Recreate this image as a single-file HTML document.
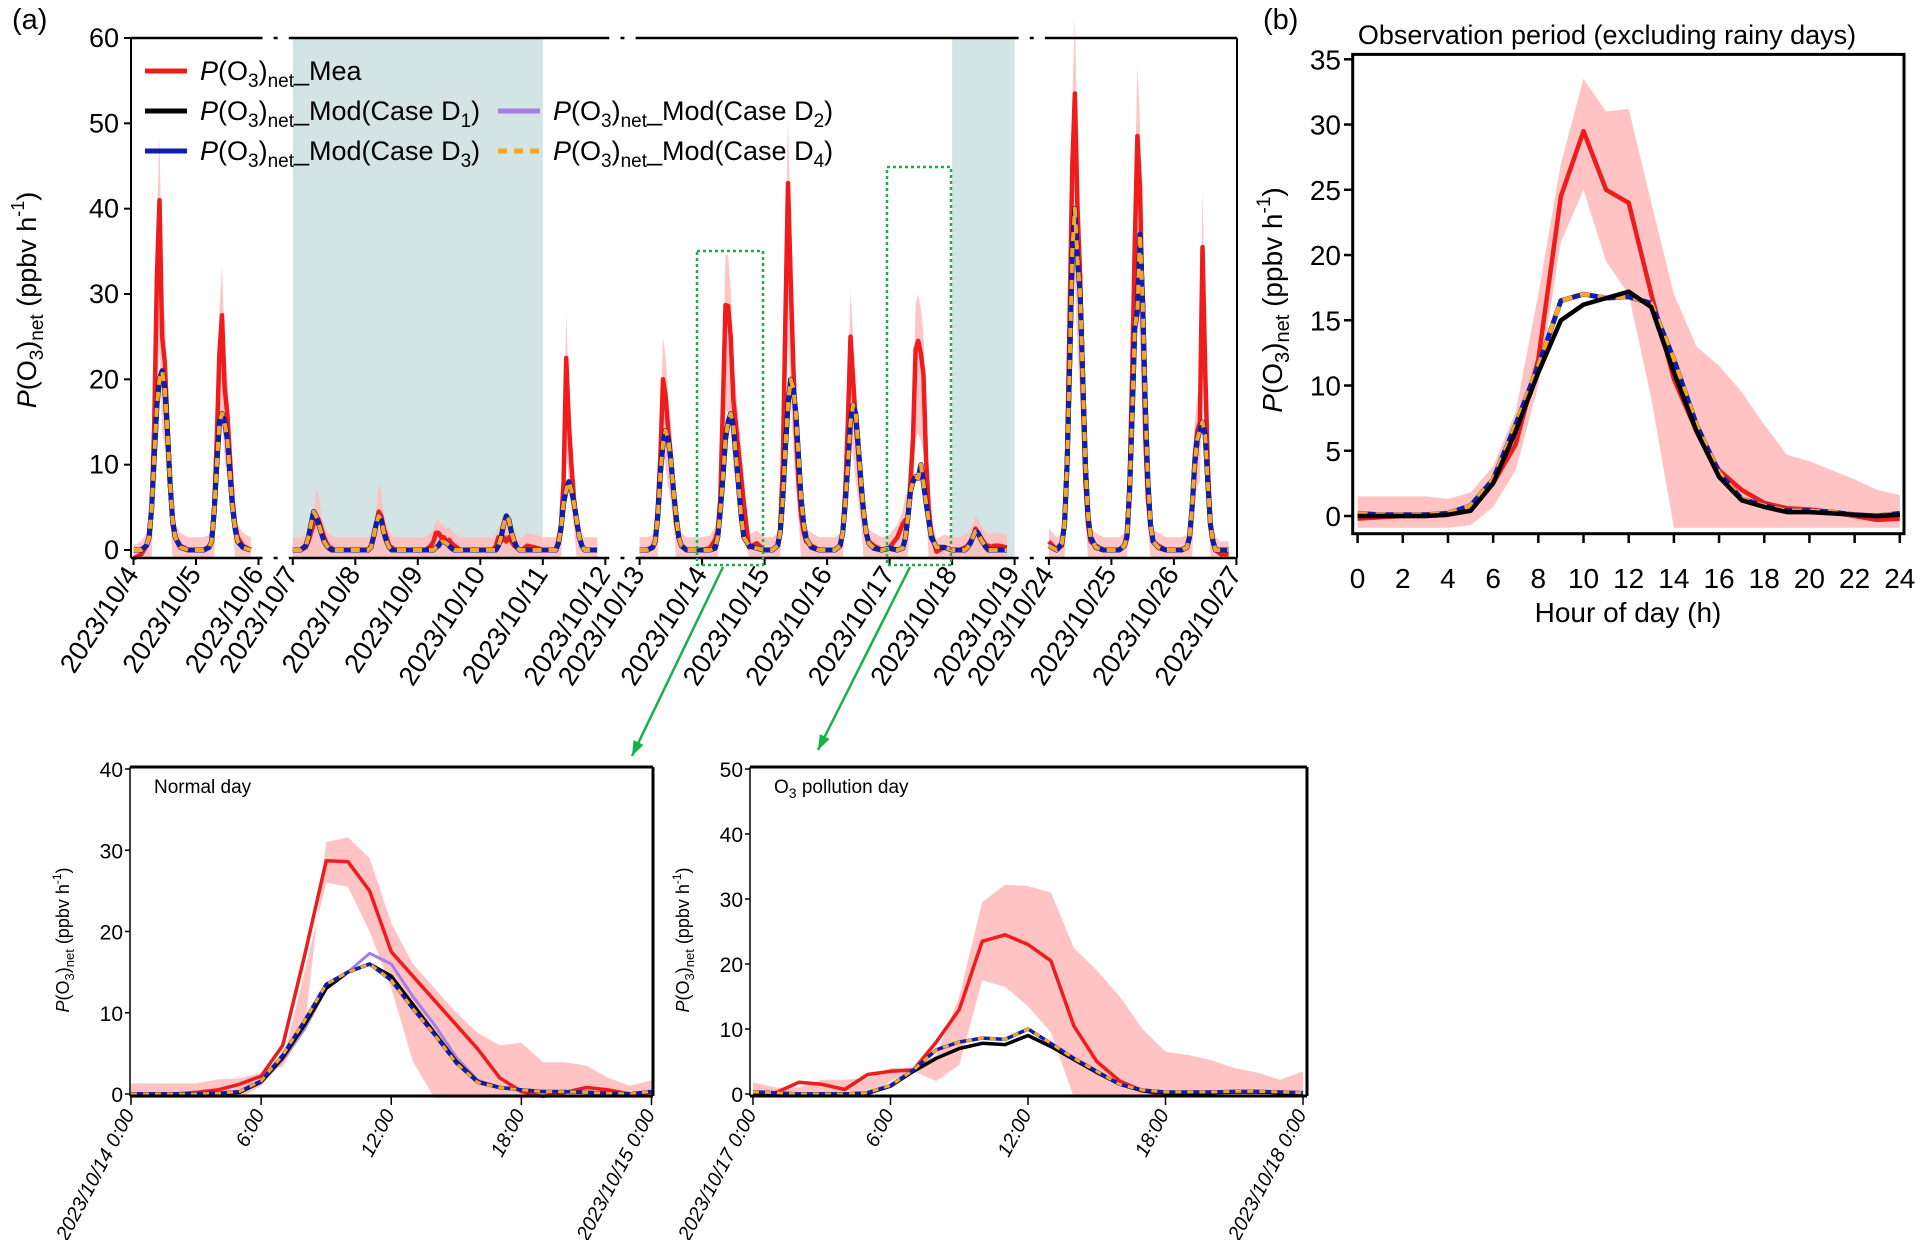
<!DOCTYPE html>
<html><head><meta charset="utf-8"><style>
html,body{margin:0;padding:0;background:#fff;}
svg{display:block;font-family:"Liberation Sans",sans-serif;}
.nar{font-family:"Liberation Sans Narrow","Liberation Sans",sans-serif;}
</style></head><body>
<svg id="fig" width="1921" height="1240" viewBox="0 0 1921 1240" xmlns="http://www.w3.org/2000/svg">
<g id="pa"></g>
<g id="pb"></g>
<g id="pc"></g>
<g id="pd"></g>
</svg>
<script>
// ---------- Panel (a) data ----------
const segFrom=[4,7,13,24];
const segTo=[6,12,19,27];
const gridHours=[0,3,5,6,7,8,9,10,11,12,13,14,15,16,18,21];
const dayDates=[4,5,7,8,9,10,11,13,14,15,16,17,18,24,25,26];
const meaA=[
[-1,-0.5,0.5,1.5,5,15,32,41,25,22,15,8,3,1.5,0.5,0],
[0,0,0.3,1,5,13,23,27.5,19,16,11,6,3,1.5,0.5,0],
[0,0,0.3,1,2,3,4,3.5,2.5,1.5,0.8,0.3,0.2,0,0,0],
[0,0,0,0.5,1.5,3,4.5,4,2.5,1.5,0.5,0.3,0,0,0,0],
[0,0,0.5,1,2,2,1.5,1.5,1,1.2,0.8,0.5,0.3,0,0,0],
[0,0,0,0.5,1.5,1,1.5,1,1.5,1,0.5,0.3,0,0,0.5,0.3],
[0,0,0,1,3,8,22.5,15,10,6,3,1.5,0.5,0,0,0],
[0,0,0.3,1,5,11,20,18,14,11,7,3,1.5,0.5,0,0],
[0,0.2,1.2,2.2,6,17,28.7,28.6,25,17.5,14.5,11.5,8.5,5.5,0.3,0.8],
[0,0,0.5,2.5,10,27,43,32,22,14,8,4,2,1,0.5,0],
[0,0,0.5,2,7,15,25,20,15,11,7,4,2,1,0.5,0],
[0.3,1.5,3,3.5,3.7,8,13,23.5,24.5,23,20.5,10.5,5,2,-0.2,0.3],
[0,0,0.3,0.5,1,1.5,2.5,2,1.5,1,0.5,0.5,0.3,0.5,0.5,0.3],
[1,0,0.5,3,11,28,45,53.5,40,32,18,8,3,1,0.5,0],
[0,0,0.5,2,8,21,36,48.5,42.5,27,13,6,3,1,0.5,0],
[0,0,0.3,1.5,5,11,14,15,35.5,21,10,3,1,0,-0.5,-0.5]];
const modA=[
[0,0,0.5,1.5,5,11,17,20,21,19,14,8,3.5,1.5,0.3,0],
[0,0,0.3,1,4.5,10,15,16,15,13,9,5,2.5,1,0.3,0],
[0,0,0.5,1.5,3,4.5,4,3,2,1,0.5,0.2,0,0,0,0],
[0,0,0,0.3,1.5,3,4,3.5,2,1,0.3,0,0,0,0,0],
[0,0,0,0,0.3,0.5,1,1,0.8,0.5,0.2,0,0,0,0,0],
[0,0,0,0,0.5,1.5,3,4,3.5,2,1,0.3,0,0,0,0],
[0,0,0,0.8,2.5,5.5,7,8,7,5.5,3.5,1.5,0.5,0,0,0],
[0,0,0.3,1,4,9,12.5,14,13,10.5,7,4,1.5,0.5,0,0],
[0,0,0.2,1.5,4.5,8.5,13,15,16,14.5,11,7.5,4,1.5,0.5,0.2],
[0,0,0.5,2,6,12,17,20,19,16,11,6,3,1.3,0.3,0],
[0,0,0.5,2,5.5,10,15,17,16,12,8,4.5,2,0.8,0.2,0],
[0.2,0,0.2,1.3,3.7,6.8,8,8.6,8.4,10,7.8,5.5,3.5,1.5,0.3,0.3],
[0,0,0,0.3,0.8,1.5,2.2,2,1.3,0.8,0.3,0,0,0,0,0],
[0.5,0,0.8,3,10,22,35,40,34,30,20,10,4,1.5,0.3,0],
[0,0,0.5,1.5,7,16,26,28,37,29,17,8,3,1,0.3,0],
[0,0,0.3,1.5,5,10,13,14,15,13.5,8,3,1,0,0,0]];
const rainFrom=[7,18];
const rainTo=[11,19];
const yTicksA=[0,10,20,30,40,50,60];

// ---------- Panel (b) data ----------
const hoursB=[0,1,2,3,4,5,6,7,8,9,10,11,12,13,14,15,16,17,18,19,20,21,22,23,24];
const meaB=[-0.2,-0.1,0,0,0.1,0.8,2.5,5.5,12,24.5,29.5,25,24,17,10.5,6.5,3.5,2,1,0.6,0.5,0.3,0,-0.3,-0.2];
const upB=[1.5,1.5,1.5,1.5,1.3,1.8,3.8,8,17,27,33.5,31,31.2,24,17,13,11.5,9.5,7,4.7,4.2,3.5,2.8,2,1.6];
const loB=[-1,-1,-1,-1,-1,-0.7,0.7,3.5,10,21,25,19.5,17,9,-1,-1,-1,-1,-1,-1,-1,-1,-1,-1,-1];
const modB1=[0,0,0,0,0.1,0.4,2.5,6.5,11,15,16.2,16.7,17.2,16,11,6.5,3,1.2,0.7,0.3,0.3,0.2,0.1,0,0.1];
const modB3=[0.2,0.1,0.1,0.1,0.2,0.8,2.8,7,11.5,16.5,17,16.7,16.8,16.3,12,7,3.3,1.3,0.8,0.4,0.4,0.3,0.1,0,0.2];
const yTicksB=[0,5,10,15,20,25,30,35];
const xTicksB=[0,2,4,6,8,10,12,14,16,18,20,22,24];

// ---------- Normal day ----------
const meaN=[0,0,0,0.2,0.5,1.2,2.2,6,17,28.7,28.6,25,17.5,14.5,11.5,8.5,5.5,2,0.3,-0.3,0.2,0.8,0.5,0,0.2];
const upN=[1.3,1.3,1.3,1.3,1.8,1.9,2.6,3.4,8,31,31.6,29,21,16,13,10,7.5,6,6.3,3.9,3.9,3.5,2,1,1.7];
const loN=[-0.5,-0.5,-0.5,-0.5,-0.5,-0.5,1,4,15,26,25.5,20,13,4,-0.5,-0.5,-0.5,-0.5,-0.5,-0.5,-0.5,-0.5,-0.5,-0.5,-0.5];
const modN1=[0,0,0,0,0.1,0.2,1.5,4.5,8.5,13,15,16,14.5,11,7.5,4,1.5,0.8,0.5,0.3,0.3,0.2,0.1,0,0.3];
const modN2=[0,0,0,0,0.1,0.2,1.4,4.2,8,13,15,17.3,16,12,8.5,4.5,1.7,0.8,0.5,0.3,0.3,0.2,0.1,0,0.3];
const modN3=[0,0,0,0,0.1,0.3,1.6,4.8,9,13.5,15,16,14,10.5,7.3,3.8,1.4,0.8,0.5,0.3,0.3,0.2,0.1,0,0.3];
const yTicksN=[0,10,20,30,40];
// ---------- Pollution day ----------
const meaP=[0.3,0.2,1.8,1.5,0.7,3,3.5,3.7,8,13,23.5,24.5,23,20.5,10.5,5,2,0.5,-0.2,0.3,0.3,0.3,0.3,0.3,0.2];
const upP=[1.8,1,1,2.2,2.2,2.5,4,4,6,15,29.5,32.2,32,31,22.5,19,15,10,6.5,6,5.2,4,3.3,2.2,3.5];
const loP=[-0.5,-0.5,-0.5,-0.5,-0.5,-0.5,2,3.5,2,4.5,17.5,16.5,13.5,9.5,-0.5,-0.5,-0.5,-0.5,-0.5,-0.5,-0.5,-0.5,-0.5,-0.5,-0.5];
const modP1=[0,0,0,0,0,0.1,1.2,3.5,5.5,7,7.8,7.6,9,7.3,5.3,3.3,1.5,0.5,0.2,0.2,0.2,0.3,0.3,0.2,0.2];
const modP3=[0.3,0.2,0,0,0,0.2,1.3,3.7,6.8,8,8.6,8.4,10,7.8,5.5,3.5,1.5,0.6,0.3,0.3,0.3,0.4,0.4,0.3,0.2];
const yTicksP=[0,10,20,30,40,50];
const xTicksDay=[0,6,12,18,24];

const NS="http://www.w3.org/2000/svg";
function mk(parent,tag,attrs,txt){const e=document.createElementNS(NS,tag);for(const k in attrs)e.setAttribute(k,attrs[k]);if(txt!==undefined)e.textContent=txt;parent.appendChild(e);return e;}
function ptsStr(xs,ys){return xs.map((x,i)=>x.toFixed(1)+','+ys[i].toFixed(1)).join(' ');}

const C={red:'#ee1c1c',black:'#000',purple:'#a57fe6',blue:'#0d1eb0',orange:'#f6a623',band:'#ffbcbc',rain:'#d2e4e3',green:'#19b04a'};

// ================= Panel (a) =================
(function(){
const g=document.getElementById('pa');
const X0=133.5, DW=62.5, GAP=34.3, Y0=550, YPER=(550-38)/60;
const segStart=[];let acc=X0;
for(let s=0;s<segFrom.length;s++){segStart.push(acc);acc+=(segTo[s]-segFrom[s])*DW+GAP;}
function segOf(d){for(let s=0;s<segFrom.length;s++){if(d>=segFrom[s]&&d<=segTo[s])return s;}return 0;}
function xA(d,h){const s=segOf(d);return segStart[s]+(d-segFrom[s]+h/24)*DW;}
function yA(v){return Y0-v*YPER;}
for(let i=0;i<rainFrom.length;i++){
  const r=mk(g,'rect',{x:xA(rainFrom[i],0),y:38,width:xA(rainTo[i],0)-xA(rainFrom[i],0),height:Y0+8-38,fill:C.rain});
  
  
}
function buildSeg(s,arr,fn){const xs=[],ys=[];
  dayDates.forEach((d,i)=>{if(segOf(d)!==s)return;gridHours.forEach((h,j)=>{xs.push(xA(d,h));ys.push(yA(fn(arr[i][j])));});});
  return [xs,ys];}
for(let s=0;s<segFrom.length;s++){
  const [xs,yu]=buildSeg(s,meaA,v=>v>3?v*1.12+2.5:v+1.5);
  const [,yl]=buildSeg(s,meaA,v=>v>5?v*0.6-1:-1);
  if(!xs.length)continue;
  const poly=ptsStr(xs,yu)+' '+ptsStr(xs.slice().reverse(),yl.slice().reverse());
  const b=mk(g,'polygon',{points:poly,fill:C.band,opacity:0.85});
  
  
}
const series=[
 {arr:meaA,col:C.red,w:4.5,name:'measured-line',dash:null},
 {arr:modA,col:C.black,w:5,name:'mod-case-d1-line',dash:null},
 {arr:modA,col:C.purple,w:4,name:'mod-case-d2-line',dash:null},
 {arr:modA,col:C.blue,w:5,name:'mod-case-d3-line',dash:null},
 {arr:modA,col:C.orange,w:4,name:'mod-case-d4-line',dash:'9,7'}];
series.forEach(sr=>{for(let s=0;s<segFrom.length;s++){
  const [xs,ys]=buildSeg(s,sr.arr,v=>v);if(!xs.length)continue;
  const a={points:ptsStr(xs,ys),fill:'none',stroke:sr.col,'stroke-width':sr.w,'stroke-linejoin':'round'};
  if(sr.dash)a['stroke-dasharray']=sr.dash;
  const p=mk(g,'polyline',a);
  
  
}});
const fr=mk(g,'g',{});


mk(fr,'line',{x1:131,y1:38,x2:131,y2:Y0+8,stroke:'#000','stroke-width':2});
mk(fr,'line',{x1:1237,y1:38,x2:1237,y2:Y0+8,stroke:'#000','stroke-width':2});
for(let s=0;s<segFrom.length;s++){
  const xa=s===0?131:segStart[s]-4, xb=s===segFrom.length-1?1237:segStart[s]+(segTo[s]-segFrom[s])*DW+4;
  mk(fr,'line',{x1:xa,y1:38,x2:xb,y2:38,stroke:'#000','stroke-width':2.5});
  mk(fr,'line',{x1:xa,y1:Y0+8,x2:xb,y2:Y0+8,stroke:'#000','stroke-width':2.5});
  if(s>0){const gx=segStart[s]-GAP/2;
    mk(fr,'line',{x1:gx-2,y1:38,x2:gx+2,y2:38,stroke:'#000','stroke-width':2.5});
    mk(fr,'line',{x1:gx-2,y1:Y0+8,x2:gx+2,y2:Y0+8,stroke:'#000','stroke-width':2.5});}
}
yTicksA.forEach(v=>{const y=yA(v);
  mk(fr,'line',{x1:124,y1:y,x2:131,y2:y,stroke:'#000','stroke-width':2});
  const t=mk(g,'text',{x:119,y:y+9,'text-anchor':'end','font-size':27},String(v));
  
  
});
for(let s=0;s<segFrom.length;s++){for(let d=segFrom[s];d<=segTo[s];d++){
  const x=segStart[s]+(d-segFrom[s])*DW;
  mk(fr,'line',{x1:x,y1:Y0+8,x2:x,y2:Y0+15,stroke:'#000','stroke-width':2});
  const t=mk(g,'text',{x:x+6,y:Y0+24,'text-anchor':'end','font-size':27,transform:`rotate(-57 ${x+6} ${Y0+24})`},'2023/10/'+d);
  
  
}}
const hl=[[14,[697,251,66,314],[723,567,632,756]],[17,[887,167,64,398],[910,567,818,750]]];
hl.forEach(h=>{
  const r=mk(g,'rect',{x:h[1][0],y:h[1][1],width:h[1][2],height:h[1][3],fill:'none',stroke:C.green,'stroke-width':2.5,'stroke-dasharray':'3,3'});
  
  
  const a=h[2];
  const l=mk(g,'line',{x1:a[0],y1:a[1],x2:a[2],y2:a[3],stroke:C.green,'stroke-width':2.5});
  
  
  const ang=Math.atan2(a[3]-a[1],a[2]-a[0]);const L=16;
  const p1=[a[2]-L*Math.cos(ang-0.35),a[3]-L*Math.sin(ang-0.35)],p2=[a[2]-L*Math.cos(ang+0.35),a[3]-L*Math.sin(ang+0.35)];
  mk(g,'polygon',{points:`${a[2]},${a[3]} ${p1[0]},${p1[1]} ${p2[0]},${p2[1]}`,fill:C.green});
});
const yl=mk(g,'text',{x:0,y:0,'font-size':27,'text-anchor':'middle',transform:'translate(36 300) rotate(-90)'});


yl.innerHTML='<tspan font-style="italic">P</tspan>(O<tspan font-size="19" dy="7">3</tspan><tspan dy="-7">)</tspan><tspan font-size="19" dy="7">net</tspan><tspan dy="-7"> (ppbv h</tspan><tspan font-size="18" dy="-12">-1</tspan><tspan dy="12">)</tspan>';
const pl=mk(g,'text',{x:12,y:29,'font-size':29},'(a)');


const leg=[[145,71,C.red,null,'Mea'],[145,111,C.black,null,'Mod(Case D','1'],[498,111,C.purple,null,'Mod(Case D','2'],[145,151,C.blue,null,'Mod(Case D','3'],[498,151,C.orange,'9,7','Mod(Case D','4']];
leg.forEach(L=>{
  const lg=mk(g,'g',{});
  
  
  const a={x1:L[0],y1:L[1],x2:L[0]+42,y2:L[1],stroke:L[2],'stroke-width':5};if(L[3])a['stroke-dasharray']=L[3];
  mk(lg,'line',a);
  const t=mk(lg,'text',{x:L[0]+55,y:L[1]+9,'font-size':27});
  let h='<tspan font-style="italic">P</tspan>(O<tspan font-size="19" dy="7">3</tspan><tspan dy="-7">)</tspan><tspan font-size="19" dy="7">net</tspan><tspan dy="-7">_'+L[4]+'</tspan>';
  if(L[5])h+='<tspan font-size="19" dy="7">'+L[5]+'</tspan><tspan dy="-7">)</tspan>';
  t.innerHTML=h;
});
})();

// ================= Panel (b) =================
(function(){
const g=document.getElementById('pb');
const xB=h=>1357.6+h*(1899.8-1357.6)/24, yB=v=>516-v*(516-59.3)/35;
const yc=v=>yB(Math.max(v,-0.9));
const poly=ptsStr(hoursB.map(xB),upB.map(yc))+' '+ptsStr(hoursB.map(xB).reverse(),loB.map(yc).reverse());
const b=mk(g,'polygon',{points:poly,fill:C.band,opacity:0.9});


[[meaB,C.red,4.5,null,'measured-line'],[modB3,C.purple,3,null,'mod-case-d2-line'],[modB3,C.blue,5,null,'mod-case-d3-line'],[modB3,C.orange,4.5,'10,8','mod-case-d4-line'],[modB1,C.black,4.5,null,'mod-case-d1-line']].forEach(s=>{
  const a={points:ptsStr(hoursB.map(xB),s[0].map(yB)),fill:'none',stroke:s[1],'stroke-width':s[2],'stroke-linejoin':'round'};if(s[3])a['stroke-dasharray']=s[3];
  const p=mk(g,'polyline',a);
  
  
});
const f=mk(g,'rect',{x:1352.7,y:54.4,width:551.3,height:479.3,fill:'none',stroke:'#000','stroke-width':3});


yTicksB.forEach(v=>{const y=yB(v);mk(g,'line',{x1:1344,y1:y,x2:1352,y2:y,stroke:'#000','stroke-width':2.5});
  const t=mk(g,'text',{x:1341,y:y+10,'text-anchor':'end','font-size':28},String(v));
  
  });
xTicksB.forEach(v=>{const x=xB(v);mk(g,'line',{x1:x,y1:533.7,x2:x,y2:543,stroke:'#000','stroke-width':2.5});
  const t=mk(g,'text',{x:x,y:588,'text-anchor':'middle','font-size':28},String(v));
  
  });
const xt=mk(g,'text',{x:1628,y:622,'text-anchor':'middle','font-size':28},'Hour of day (h)');


const tt=mk(g,'text',{x:1607,y:44,'text-anchor':'middle','font-size':27},'Observation period (excluding rainy days)');


const pl=mk(g,'text',{x:1263,y:29,'font-size':29},'(b)');


const yl=mk(g,'text',{x:0,y:0,'font-size':28,'text-anchor':'middle',transform:'translate(1282 300) rotate(-90)'});


yl.innerHTML='<tspan font-style="italic">P</tspan>(O<tspan font-size="20" dy="7">3</tspan><tspan dy="-7">)</tspan><tspan font-size="20" dy="7">net</tspan><tspan dy="-7"> (ppbv h</tspan><tspan font-size="19" dy="-12">-1</tspan><tspan dy="12">)</tspan>';
})();

// ================= Bottom panels =================
function dayPanel(id,L,R,T,B,x0,x24,yTop,ymax,yt,mea,up,lo,m1,m2,m3,title,startLbl,endLbl){
const g=document.getElementById(id);
const xD=h=>x0+h*(x24-x0)/24, yD=v=>1094-v*(1094-yTop)/ymax;
const yc=v=>yD(Math.max(v,-0.5));
const hrs=mea.map((_,i)=>i);
const b=mk(g,'polygon',{points:ptsStr(hrs.map(xD),up.map(yc))+' '+ptsStr(hrs.map(xD).reverse(),lo.map(yc).reverse()),fill:C.band,opacity:0.9});


[[mea,C.red,3.5,null,'measured-line'],[m2,C.purple,3,null,'mod-case-d2-line'],[m1,C.black,3.5,null,'mod-case-d1-line'],[m3,C.blue,3.5,null,'mod-case-d3-line'],[m3,C.orange,3,'6,6','mod-case-d4-line']].forEach(s=>{
  const a={points:ptsStr(hrs.map(xD),s[0].map(yD)),fill:'none',stroke:s[1],'stroke-width':s[2],'stroke-linejoin':'round'};if(s[3])a['stroke-dasharray']=s[3];
  const p=mk(g,'polyline',a);
  
  
});
mk(g,'line',{x1:L,y1:T,x2:R,y2:T,stroke:'#000','stroke-width':3});
mk(g,'line',{x1:R,y1:T,x2:R,y2:B,stroke:'#000','stroke-width':3});
mk(g,'line',{x1:L,y1:B,x2:R,y2:B,stroke:'#000','stroke-width':3});
mk(g,'line',{x1:L,y1:T,x2:L,y2:B,stroke:'#000','stroke-width':1.5});
yt.forEach(v=>{const y=yD(v);mk(g,'line',{x1:L-5,y1:y,x2:L,y2:y,stroke:'#000','stroke-width':1.5});
  const t=mk(g,'text',{x:L-7,y:y+8,'text-anchor':'end','font-size':21,class:'nar'},String(v));
  
  });
xTicksDay.forEach(v=>{const x=xD(v);mk(g,'line',{x1:x,y1:B,x2:x,y2:B+9,stroke:'#000','stroke-width':1.5});
  const lbl=v===0?startLbl:(v===24?endLbl:v+':00');
  const t=mk(g,'text',{x:x+4,y:B+18,'text-anchor':'end','font-size':20,'font-style':'italic',class:'nar',transform:`rotate(-62 ${x+4} ${B+18})`},lbl);
  
  });
const tl=mk(g,'text',{x:L+24,y:793,'font-size':19,class:'nar'});


tl.innerHTML=title;
const yl=mk(g,'text',{x:0,y:0,'font-size':18,'text-anchor':'middle',transform:`translate(${L-61} 940) rotate(-90)`});


yl.innerHTML='<tspan font-style="italic">P</tspan>(O<tspan font-size="13" dy="5">3</tspan><tspan dy="-5">)</tspan><tspan font-size="13" dy="5">net</tspan><tspan dy="-5"> (ppbv h</tspan><tspan font-size="12" dy="-8">-1</tspan><tspan dy="8">)</tspan>';
}
dayPanel('pc',130,653,767,1096,131,651.5,769,40,yTicksN,meaN,upN,loN,modN1,modN2,modN3,'Normal day','2023/10/14 0:00','2023/10/15 0:00');
dayPanel('pd',750,1307,767,1096,753,1303,769,50,yTicksP,meaP,upP,loP,modP1,modP1,modP3,'O<tspan font-size="14" dy="5">3</tspan><tspan dy="-5"> pollution day</tspan>','2023/10/17 0:00','2023/10/18 0:00');
</script>
</body></html>
